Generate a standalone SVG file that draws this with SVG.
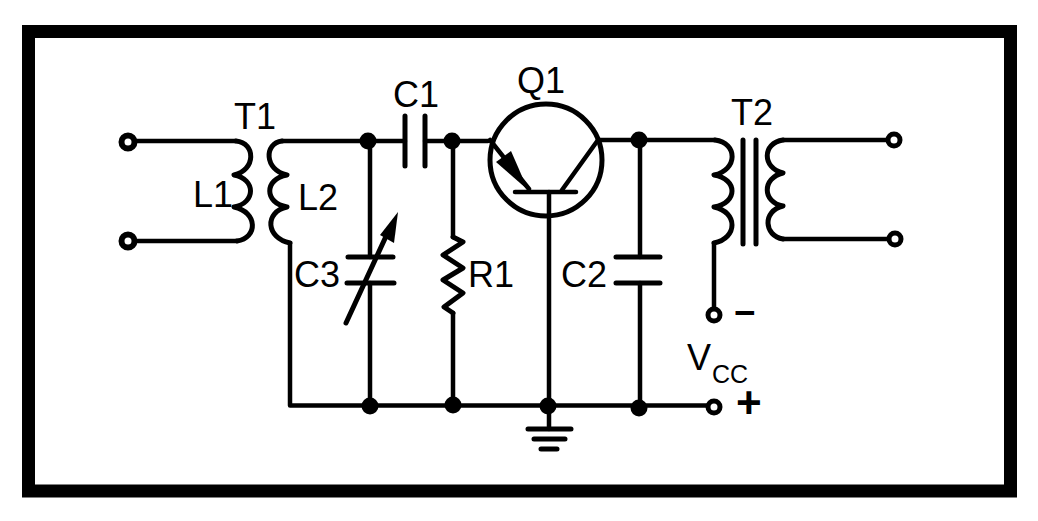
<svg xmlns="http://www.w3.org/2000/svg" width="1038" height="521" viewBox="0 0 1038 521">
<style>
.w{fill:none;stroke:#000;stroke-width:4.500;stroke-linecap:round;stroke-linejoin:round}
.c{fill:none;stroke:#000;stroke-width:5;stroke-linecap:round;stroke-linejoin:round}
.t{fill:#fff;stroke:#000;stroke-width:5}
.n{fill:#000}
text{font-family:"Liberation Sans",Arial,sans-serif;font-size:36px;fill:#000}
</style>
<rect width="1038" height="521" fill="#fff"/>
<rect id="frame" x="28.500" y="31.500" width="982" height="459.500" fill="none" stroke="#000" stroke-width="13"/>
<g id="connectors">
<path class="w" d="M135 141H236M135 241H237"/>
<path class="w" d="M282 141H405M425 141H488M598 140H715"/>
<path class="w" d="M290 243V405.500H706"/>
<path class="w" d="M370 141V257M370 283V406M453 141V237M453 313V406M549 192V429M640 140V257M640 283V406"/>
<path class="w" d="M714 243V308"/>
<path class="w" d="M783 140H887M783 239H888"/>
</g>
<g id="T1"><path class="c" d="M236 141C256 143 256 170 234 175C256 179 256 203 234 207C258 212 258 238 237 241"/><path class="c" d="M282 141C264 143 264 170 287 175C264 179 264 203 287 207C264 212 266 238 290 243"/><text x="234" y="129">T1</text></g>
<g id="L1"><text x="193" y="207">L1</text></g>
<g id="L2"><text x="298" y="210">L2</text></g>
<g id="C1"><path class="c" d="M405 116V166M425 116V166"/><text x="393" y="107">C1</text></g>
<g id="C3"><path class="c" d="M348 257H393M347 283H394"/><path class="c" d="M346 323L388 232"/><polygon class="n" points="398,212 394,243 380,235"/><text x="294" y="287">C3</text></g>
<g id="R1"><path class="c" d="M453 237L463 242L443 255L463 268L443 280L463 293L444 307L453 313"/><text x="468" y="287">R1</text></g>
<g id="Q1"><circle cx="546" cy="160" r="56" fill="none" stroke="#000" stroke-width="5"/><path class="w" d="M515 192H576"/><path class="w" d="M490 140L529 189M598 140L562 190"/><polygon class="n" points="528,190 496,162 511,151"/><text x="517" y="93">Q1</text></g>
<g id="C2"><path class="c" d="M616 257H660M616 283H660"/><text x="561" y="287">C2</text></g>
<g id="T2"><path class="c" d="M715 140C738 143 738 170 714 175C738 179 738 203 714 207C738 212 738 238 714 243"/><path class="c" d="M743 140V244M756 140V244"/><path class="c" d="M783 140C762 143 762 168 783 173C762 178 762 202 783 206C762 211 764 236 783 239"/><text x="731" y="125">T2</text></g>
<g id="ground"><path class="c" d="M528 429H571M534 439H565M541 449H557"/></g>
<g id="junctions"><circle class="n" cx="368" cy="141" r="8.500"/><circle class="n" cx="452" cy="141" r="8.500"/><circle class="n" cx="639" cy="140" r="8.500"/><circle class="n" cx="370" cy="406" r="8.500"/><circle class="n" cx="453" cy="405" r="8.500"/><circle class="n" cx="548" cy="406" r="8.500"/><circle class="n" cx="639" cy="408" r="8.500"/></g>
<g id="terminals"><circle class="t" cx="128" cy="142" r="6.500" style="stroke-width:6"/><circle class="t" cx="128" cy="241" r="6.500" style="stroke-width:6"/><circle class="t" cx="894" cy="140" r="6"/><circle class="t" cx="895" cy="239" r="6"/><circle class="t" cx="714" cy="315" r="6"/><circle class="t" cx="714" cy="407" r="6"/></g>
<g id="Vcc"><text x="687" y="370">V</text><text x="712" y="383" style="font-size:25px">CC</text><text x="734" y="325" style="font-size:37px;font-weight:bold">−</text><text x="736" y="418" style="font-size:44px;font-weight:bold">+</text></g>
</svg>
